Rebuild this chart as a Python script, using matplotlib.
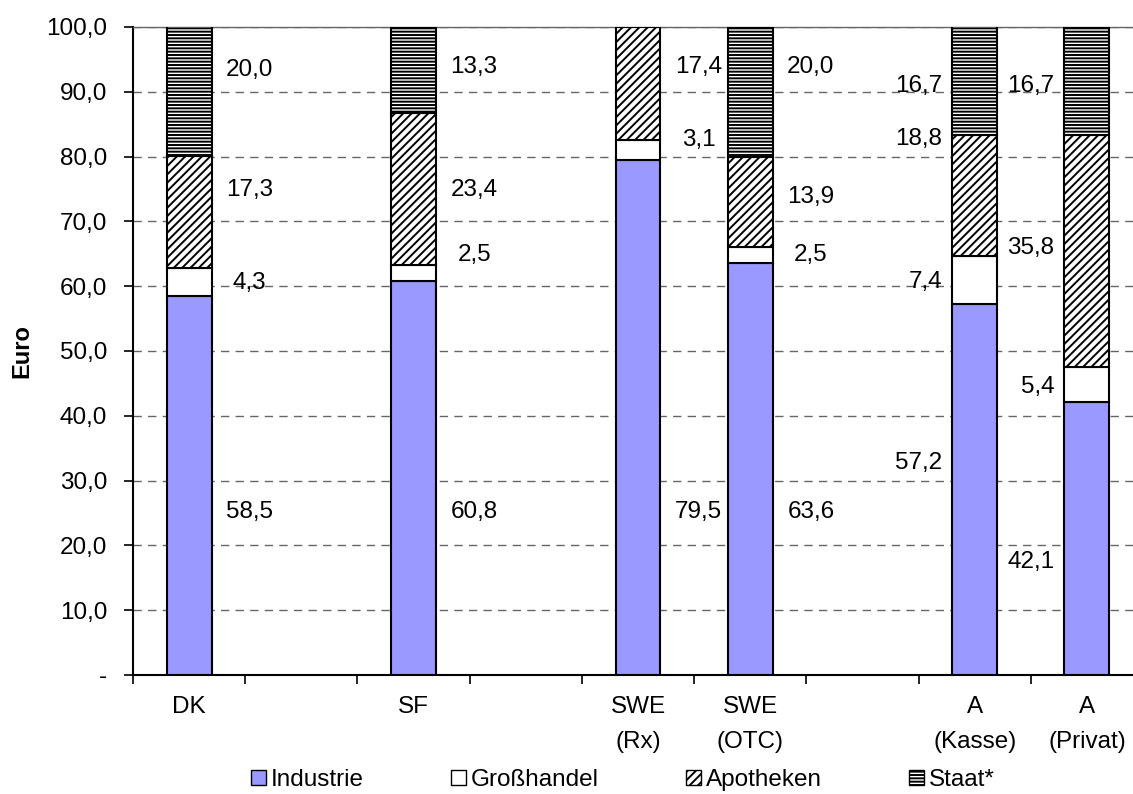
import matplotlib
matplotlib.use("Agg")
import matplotlib.pyplot as plt
from matplotlib.patches import Patch
import numpy as np

plt.rcParams['font.family'] = ['Liberation Sans', 'DejaVu Sans']
plt.rcParams['hatch.linewidth'] = 1.4

# data
categories = ['DK', 'SF', 'SWE\n(Rx)', 'SWE\n(OTC)', 'A\n(Kasse)', 'A\n(Privat)']
slots = [0, 2, 4, 5, 7, 8]          # position on the 9-slot category axis
n_slots = 9
series = ['Industrie', 'Großhandel', 'Apotheken', 'Staat*']
industrie = [58.5, 60.8, 79.5, 63.6, 57.2, 42.1]
grosshandel = [4.3, 2.5, 3.1, 2.5, 7.4, 5.4]
apotheken = [17.3, 23.4, 17.4, 13.9, 18.8, 35.8]
staat = [20.0, 13.3, 0.0, 20.0, 16.7, 16.7]

# where Excel put the data labels (y in data units, side of the bar)
label_y = [
    [25.2, 60.5, 74.8, 93.3],
    [25.2, 64.8, 74.8, 93.8],
    [25.2, 82.6, 93.8, None],
    [25.1, 64.8, 73.8, 93.8],
    [32.7, 60.7, 82.7, 90.9],
    [17.5, 44.5, 65.9, 90.9],
]
label_side = ['r', 'r', 'r', 'r', 'l', 'l']

styles = [
    dict(facecolor='#9999FF', hatch=None),
    dict(facecolor='white', hatch=None),
    dict(facecolor='white', hatch='////'),
    dict(facecolor='white', hatch='-----'),
]

FS = 17.5

fig = plt.figure(figsize=(11.33, 7.94), dpi=100)
ax = fig.add_axes([133 / 1133, 1 - 675 / 794, 1010 / 1133, 648 / 794])

x = np.array(slots, dtype=float)
width = 0.4
bottom = np.zeros(len(categories))
for name, vals, st in zip(series, [industrie, grosshandel, apotheken, staat], styles):
    vals = np.array(vals)
    ax.bar(x, vals, width, bottom=bottom, facecolor=st['facecolor'], hatch=st['hatch'],
           edgecolor='black', linewidth=1.5, zorder=3)
    bottom += vals

# data labels
all_vals = [industrie, grosshandel, apotheken, staat]
for i in range(len(categories)):
    for k in range(4):
        v = all_vals[k][i]
        ly = label_y[i][k]
        if ly is None or v == 0:
            continue
        txt = f'{v:.1f}'.replace('.', ',')
        if label_side[i] == 'r':
            ax.text(x[i] + 0.54, ly, txt, ha='center', va='center', fontsize=FS, zorder=4)
        else:
            ax.text(x[i] - 0.29, ly, txt, ha='right', va='center', fontsize=FS, zorder=4)

ax.set_xlim(-0.5, n_slots - 0.5)
ax.set_ylim(0, 100)

# y axis
yt = np.arange(0, 101, 10)
ax.set_yticks(yt)
ax.set_yticklabels(['-' if v == 0 else f'{v:.1f}'.replace('.', ',') for v in yt], fontsize=FS)
ax.tick_params(axis='y', direction='out', length=6.5, width=1.2, pad=12)
ax.yaxis.grid(True, linestyle=(0, (6, 4.5)), color='#666666', linewidth=1.0)
ax.set_axisbelow(True)

# x axis: ticks at slot borders, labels at bar centres
ax.set_xticks(np.arange(n_slots + 1) - 0.5)
ax.set_xticklabels([])
ax.tick_params(axis='x', which='major', direction='out', length=6.5, width=1.2)
ax.set_xticks(x, minor=True)
ax.set_xticklabels(categories, minor=True, fontsize=FS, linespacing=1.75, va='top')
ax.tick_params(axis='x', which='minor', length=0, pad=15)

ax.spines['right'].set_visible(False)
ax.spines['top'].set_color('#666666')
ax.spines['top'].set_linewidth(1.0)
ax.spines['left'].set_linewidth(1.5)
ax.spines['bottom'].set_linewidth(1.5)

fig.text(22 / 1133, 1 - 351 / 794, 'Euro', rotation=90, ha='center', va='center',
         fontsize=17, fontweight='bold')

handles = [Patch(facecolor=st['facecolor'], hatch=st['hatch'], edgecolor='black', linewidth=1.0)
           for st in styles]
fig.legend(handles, series, loc='center', bbox_to_anchor=(623 / 1133, 1 - 780 / 794), ncol=4,
           frameon=False, fontsize=FS, handlelength=0.6, handleheight=0.6,
           handletextpad=0.2, columnspacing=3.6)

fig.savefig('out.png', dpi=100)
